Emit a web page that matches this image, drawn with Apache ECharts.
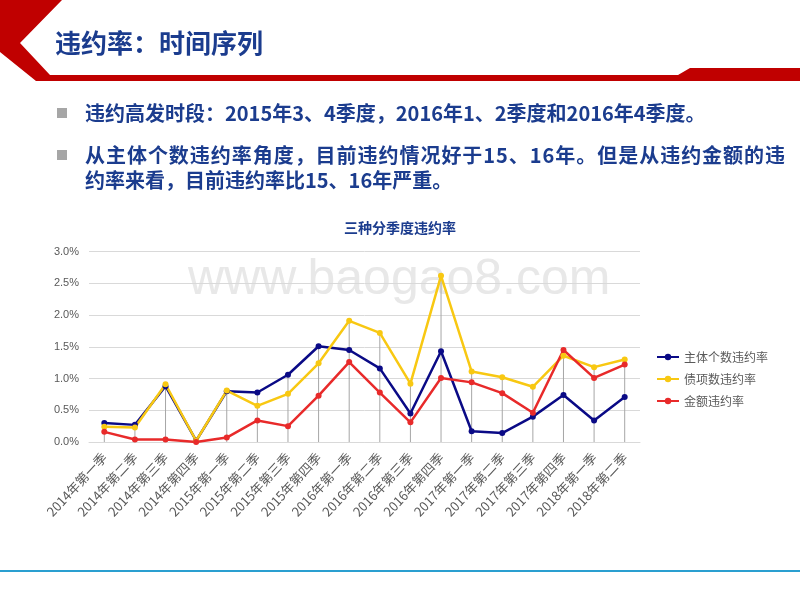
<!DOCTYPE html>
<html><head><meta charset="utf-8">
<script src="https://cdn.jsdelivr.net/npm/echarts@6/dist/echarts.min.js"></script>
<style>html,body{margin:0;padding:0;background:#fff}#c{width:800px;height:600px}</style>
</head><body><div id="c"></div>
<script>
const categories = ['2014年第一季','2014年第二季','2014年第三季','2014年第四季','2015年第一季','2015年第二季','2015年第三季','2015年第四季','2016年第一季','2016年第二季','2016年第三季','2016年第四季','2017年第一季','2017年第二季','2017年第三季','2017年第四季','2018年第一季','2018年第二季'];
const entityRate = [0.30,0.27,0.88,0.02,0.80,0.78,1.06,1.51,1.45,1.16,0.45,1.43,0.17,0.14,0.40,0.74,0.34,0.71];
const bondRate   = [0.24,0.23,0.91,0.02,0.81,0.57,0.76,1.24,1.91,1.72,0.92,2.62,1.11,1.02,0.87,1.36,1.18,1.30];
const amountRate = [0.16,0.04,0.04,0.00,0.07,0.34,0.25,0.73,1.26,0.78,0.31,1.01,0.94,0.77,0.46,1.45,1.01,1.22];
const seriesNames = ['主体个数违约率','债项数违约率','金额违约率'];
const yTicks = [0,0.5,1.0,1.5,2.0,2.5,3.0];
const slideTitle = '违约率：时间序列';
const bulletLines = ['违约高发时段：2015年3、4季度，2016年1、2季度和2016年4季度。',
  '从主体个数违约率角度，目前违约情况好于15、16年。但是从违约金额的违',
  '约率来看，目前违约率比15、16年严重。'];

const dropLines = categories.map((c,i)=>Math.max(entityRate[i],bondRate[i],amountRate[i]));
const chart = echarts.init(document.getElementById('c'));
const CJK = "'Noto Sans CJK SC','Noto Sans',sans-serif";
const blueText = '#1B3C8E';
function lineSeries(name, data, color){
  return {name, type:'line', data, symbol:'circle', symbolSize:6, z:5,
    lineStyle:{color, width:2.5}, itemStyle:{color}};
}
// justified wrapped line (as in the slide's text box)
const ctx = document.createElement('canvas').getContext('2d');
ctx.font = "bold 20px 'Noto Sans CJK SC'";
function justified(text, x0, x1, top){
  const chars = Array.from(text);
  const widths = chars.map(ch=>ctx.measureText(ch).width);
  const total = widths.reduce((a,b)=>a+b,0);
  const extra = (x1 - x0 - total)/(chars.length-1);
  let x = x0; const out=[];
  chars.forEach((ch,i)=>{
    out.push({type:'text', left:x, top, style:{text:ch, fontSize:20, fontWeight:'bold', fill:blueText, fontFamily:CJK}});
    x += widths[i] + extra;
  });
  return out;
}
const textStyleB = {fontSize:20, fontWeight:'bold', fill:blueText, fontFamily:CJK};
chart.setOption({
  animation:false,
  textStyle:{fontFamily:CJK},
  title:{text:'三种分季度违约率', left:'center', top:216,
    textStyle:{fontSize:14, fontWeight:'bold', color:blueText, fontFamily:CJK}},
  grid:{left:89, right:160, top:251.7, bottom:158},
  legend:{orient:'vertical', left:651, top:346, itemWidth:22, itemHeight:8, itemGap:10,
    data:seriesNames, textStyle:{fontSize:12, color:'#595959', fontFamily:CJK}},
  xAxis:{type:'category', data:categories, boundaryGap:true,
    axisLine:{lineStyle:{color:'#d9d9d9', width:1}}, axisTick:{show:false},
    axisLabel:{rotate:47, fontSize:13, color:'#595959', margin:13, interval:0, fontFamily:CJK}},
  yAxis:{type:'value', min:yTicks[0], max:yTicks[yTicks.length-1], interval:0.5,
    axisLine:{show:false}, axisTick:{show:false},
    splitLine:{lineStyle:{color:'#d9d9d9', width:1}},
    axisLabel:{fontSize:11, color:'#595959', margin:10, formatter:v=>v.toFixed(1)+'%', fontFamily:"'Liberation Sans',sans-serif"}},
  series:[
    {type:'bar', data:dropLines, barWidth:1, itemStyle:{color:'#a6a6a6'}, silent:true, z:1, legendHoverLink:false},
    lineSeries(seriesNames[0], entityRate, '#0A0A86'),
    lineSeries(seriesNames[1], bondRate, '#F8C812'),
    lineSeries(seriesNames[2], amountRate, '#E82A2A')
  ],
  graphic:[
    {type:'polygon', shape:{points:[[0,0],[62,0],[20,43],[50,75],[678,75],[690,68],[800,68],[800,81],[36,81],[0,52]]}, style:{fill:'#C00000'}},
    {type:'text', left:55, top:30, style:{text:slideTitle, fontSize:26, fontWeight:'bold', fill:blueText, fontFamily:CJK}},
    {type:'rect', shape:{x:57,y:108,width:10,height:10}, style:{fill:'#A6A6A6'}},
    {type:'rect', shape:{x:57,y:150,width:10,height:10}, style:{fill:'#A6A6A6'}},
    {type:'text', left:85, top:103, style:Object.assign({text:bulletLines[0]}, textStyleB)},
    ...justified(bulletLines[1], 85, 785, 145),
    {type:'text', left:85, top:170, style:Object.assign({text:bulletLines[2]}, textStyleB)},
    {type:'text', left:188, top:255, z:-1, style:{text:'www.baogao8.com', fontSize:50, fill:'#E8E8E8', fontFamily:"'Liberation Sans',sans-serif"}},
    {type:'rect', shape:{x:0,y:570,width:800,height:2}, style:{fill:'#2A9FD0'}}
  ]
});
</script></body></html>
